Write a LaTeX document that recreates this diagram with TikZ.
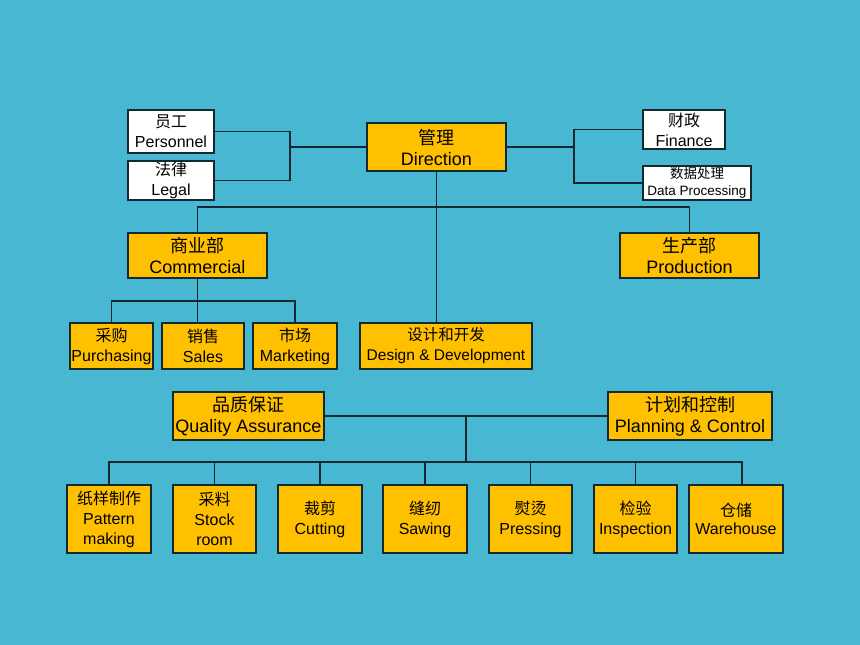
\documentclass[tikz,border=0pt]{standalone}
\usepackage{fontspec}
\setmainfont{Liberation Sans}
\newfontfamily\cjk{Noto Sans CJK SC}
\definecolor{bgc}{RGB}{72,184,210}
\definecolor{gold}{RGB}{255,192,0}
\definecolor{lnc}{RGB}{20,40,48}
\begin{document}
\begin{tikzpicture}[x=1pt,y=-1pt,
  box/.style={draw=lnc,line width=1.3pt,fill=gold,inner sep=0pt,align=center,
     font=\fontsize{16}{20}\selectfont},
  wbox/.style={box,fill=white},
  big/.style={font=\fontsize{18}{21}\selectfont},
  conn/.style={draw=lnc,line width=1.3pt}]
\fill[bgc] (0,0) rectangle (860,645);
\useasboundingbox (0,0) rectangle (860,645);
% top level
\node[wbox,minimum width=86,minimum height=43] (pers) at (171,131.5) {{\cjk 员工}\\Personnel};
\node[wbox,minimum width=86,minimum height=39] (legal) at (171,180.5) {{\cjk 法律}\\Legal};
\node[box,big,minimum width=139,minimum height=48] (dir) at (436.5,147) {{\cjk 管理}\\Direction};
\node[wbox,minimum width=82,minimum height=39] (fin) at (684,129.5) {{\cjk 财政}\\Finance};
\node[wbox,minimum width=108,minimum height=34,font=\fontsize{13.5}{17}\selectfont] (data) at (697,183) {{\cjk 数据处理}\\Data Processing};
% second level
\node[box,big,minimum width=139,minimum height=45] (comm) at (197.5,255.5) {{\cjk 商业部}\\Commercial};
\node[box,big,minimum width=139,minimum height=45] (prod) at (689.5,255.5) {{\cjk 生产部}\\Production};
% third level
\node[box,minimum width=83,minimum height=46] (purch) at (111.5,346) {{\cjk 采购}\\Purchasing};
\node[box,minimum width=82,minimum height=46] (sales) at (203,346) {{\cjk 销售}\\Sales};
\node[box,minimum width=84,minimum height=46] (mark) at (295,346) {{\cjk 市场}\\Marketing};
\node[box,minimum width=172,minimum height=46,font=\fontsize{15.5}{20}\selectfont] (design) at (446,346) {{\cjk 设计和开发}\\Design \& Development};
% production
\node[box,big,minimum width=151,minimum height=48] (qa) at (248.5,416) {{\cjk 品质保证}\\Quality Assurance};
\node[box,big,minimum width=164,minimum height=48] (pc) at (690,416) {{\cjk 计划和控制}\\Planning \& Control};
\node[box,minimum width=84,minimum height=68] (pat) at (109,519) {{\cjk 纸样制作}\\Pattern\\making};
\node[box,minimum width=83,minimum height=68] (stock) at (214.5,519) {{\cjk 采料}\\Stock\\room};
\node[box,minimum width=84,minimum height=68] (cut) at (320,519) {{\cjk 裁剪}\\Cutting};
\node[box,minimum width=84,minimum height=68] (saw) at (425,519) {{\cjk 缝纫}\\Sawing};
\node[box,minimum width=83,minimum height=68] (press) at (530.5,519) {{\cjk 熨烫}\\Pressing};
\node[box,minimum width=83,minimum height=68] (insp) at (635.5,519) {{\cjk 检验}\\Inspection};
\node[box,minimum width=94,minimum height=68,font=\fontsize{16}{18}\selectfont] (wh) at (736,519) {{\cjk 仓储}\\Warehouse};
% junction coordinates
\coordinate (jl) at (290,147);
\coordinate (jr) at (574,147);
\coordinate (bus1) at (436.5,207);
\coordinate (cb) at (197.5,301);
\coordinate (qj) at (466,416);
\coordinate (qb) at (466,462);
\coordinate (whc) at (742,462);
% connectors
\draw[conn] (pers.east) -| (jl) |- (legal.east);
\draw[conn] (jl) -- (dir.west);
\draw[conn] (dir.east) -- (jr);
\draw[conn] (fin.west) -| (jr) |- (data.west);
\draw[conn] (dir.south) -- (dir.south |- design.north);
\draw[conn] (comm.north) |- (bus1) -| (prod.north);
\draw[conn] (comm.south) -- (cb);
\draw[conn] (purch.north) |- (cb) -| (mark.north);
\draw[conn] (cb) -- (cb |- sales.north);
\draw[conn] (qa.east) -- (pc.west);
\draw[conn] (qj) -- (qb);
\draw[conn] (pat.north) |- (whc) -- (whc |- wh.north);
\foreach \n in {stock,cut,saw,press,insp}
  \draw[conn] (\n.north) -- (\n.north |- qb);
\end{tikzpicture}
\end{document}
